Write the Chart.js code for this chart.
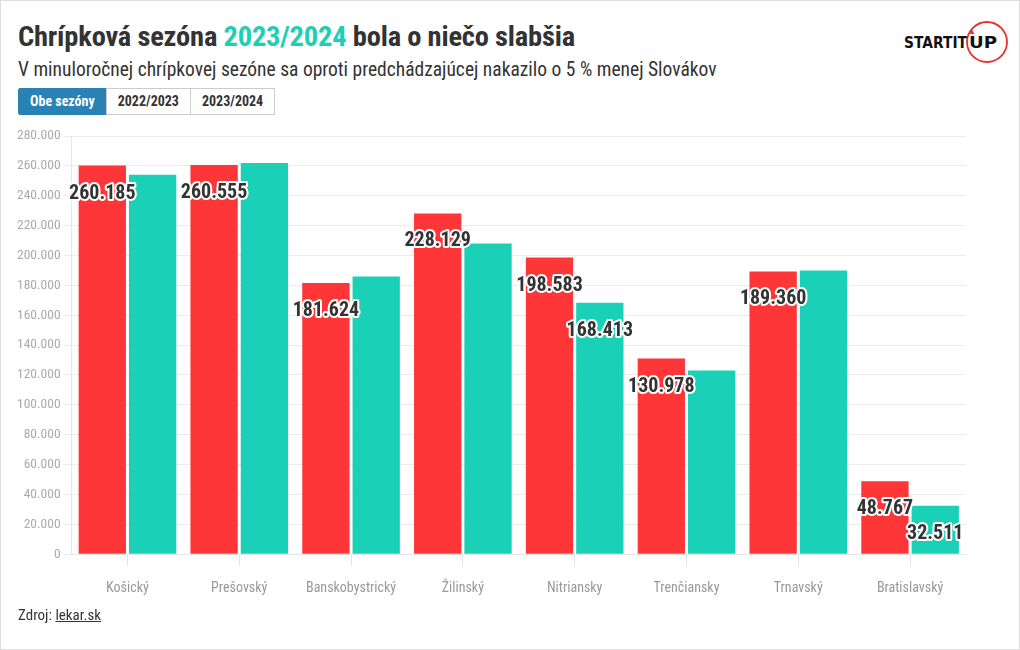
<!DOCTYPE html>
<html><head><meta charset="utf-8">
<script src="https://cdn.jsdelivr.net/npm/chart.js@4/dist/chart.umd.min.js"></script>
<style>
html,body{margin:0;padding:0;background:#fff;}
body{width:1020px;height:650px;position:relative;overflow:hidden;font-family:"Roboto Condensed","Liberation Sans Narrow","DejaVu Sans Condensed",Roboto,sans-serif;color:#333;}
#frame{position:absolute;left:0;top:0;width:1018px;height:648px;border:1px solid #ddd;}
#title{position:absolute;left:18px;top:20px;font-size:28.5px;font-weight:bold;letter-spacing:-0.2px;white-space:nowrap;}
#title .hl{color:#1ccfb5;}
#sub{position:absolute;left:18px;top:58px;font-size:19.5px;white-space:nowrap;}
#btns{position:absolute;left:18px;top:88px;display:flex;}
#btns div{height:25px;line-height:25px;font-size:14px;font-weight:bold;border:1px solid #ccc;padding:0 11px;margin-left:-1px;background:#fff;color:#333;}
#btns div.act{background:#2a82b4;color:#fff;border-color:#2a82b4;margin-left:0;border-radius:2px 0 0 2px;}
#src{position:absolute;left:18px;top:606px;font-size:15px;}
#src span{text-decoration:underline;}
#logo{position:absolute;left:900px;top:18px;}
#wrap{position:absolute;left:0;top:120px;width:1000px;height:491px;}
</style></head>
<body>
<div id="frame"></div>
<div id="title">Chrípková sezóna <span class="hl">2023/2024</span> bola o niečo slabšia</div>
<div id="sub">V minuloročnej chrípkovej sezóne sa oproti predchádzajúcej nakazilo o 5 % menej Slovákov</div>
<div id="btns"><div class="act">Obe sezóny</div><div>2022/2023</div><div>2023/2024</div></div>
<div id="logo"><svg width="115" height="50" viewBox="0 0 115 50">
<circle cx="87" cy="24" r="20" fill="none" stroke="#e8312f" stroke-width="1.8"/>
<text x="4" y="30" font-family="'DejaVu Sans', sans-serif" font-weight="bold" font-size="16.5" fill="#111" textLength="63" lengthAdjust="spacingAndGlyphs">STARTIT</text>
<text x="69" y="30" font-family="'DejaVu Sans', sans-serif" font-weight="bold" font-size="16.5" fill="#111" textLength="28" lengthAdjust="spacingAndGlyphs">UP</text>
<polygon points="69.5,16 72,11.5 74.5,16" fill="#e8312f"/>
</svg></div>
<div id="wrap"><canvas id="c"></canvas></div>
<div id="src">Zdroj: <span>lekar.sk</span></div>
<script>
const categories = ["Košický","Prešovský","Banskobystrický","Žilinský","Nitriansky","Trenčiansky","Trnavský","Bratislavský"];
const season2223 = [260185,260555,181624,228129,198583,130978,189360,48767];
const season2324 = [254000,262000,186000,208000,168413,123000,190000,32511];
const label2223 = [true,true,true,true,true,true,true,true];
const label2324 = [false,false,false,false,true,false,false,true];
const seriesNames = ["2022/2023","2023/2024"];
const yTicks = [0,20000,40000,60000,80000,100000,120000,140000,160000,180000,200000,220000,240000,260000,280000];

const FONT = '"Roboto Condensed","Liberation Sans Narrow","DejaVu Sans Condensed",Roboto,sans-serif';
function fmt(v){return String(Math.round(v)).replace(/\B(?=(\d{3})+(?!\d))/g,'.');}

const labelPlugin = {
  id:'lbl',
  afterDatasetsDraw(chart){
    const ctx = chart.ctx;
    const shows = [label2223,label2324];
    ctx.save();
    ctx.font = 'bold 20px ' + FONT;
    ctx.textAlign='center';ctx.textBaseline='middle';
    ctx.lineJoin='round';
    chart.data.datasets.forEach((ds,di)=>{
      const meta = chart.getDatasetMeta(di);
      meta.data.forEach((bar,i)=>{
        if(!shows[di][i]) return;
        const t = fmt(ds.data[i]);
        const y = bar.y + 28;
        ctx.strokeStyle='#fff';ctx.lineWidth=4;
        ctx.strokeText(t,bar.x,y);
        ctx.fillStyle='#333';
        ctx.fillText(t,bar.x,y);
      });
    });
    ctx.restore();
  }
};

new Chart(document.getElementById('c'),{
  type:'bar',
  data:{labels:categories,datasets:[
    {label:seriesNames[0],data:season2223,backgroundColor:'#fe3638',categoryPercentage:0.9,barPercentage:0.94},
    {label:seriesNames[1],data:season2324,backgroundColor:'#1ad1b8',categoryPercentage:0.9,barPercentage:0.94}
  ]},
  options:{
    responsive:true,maintainAspectRatio:false,animation:false,
    layout:{padding:{left:14,right:34,top:16,bottom:0}},
    plugins:{legend:{display:false},tooltip:{enabled:false}},
    scales:{
      x:{grid:{offset:false,drawOnChartArea:false,color:'#e6e6e6',tickLength:12},border:{color:'#e6e6e6'},
         ticks:{color:'#999',font:{family:FONT,size:14},padding:14}},
      y:{min:0,max:280000,afterBuildTicks(s){s.ticks=yTicks.map(v=>({value:v}));},
         grid:{color:'#ececec',tickLength:8},border:{color:'#e6e6e6'},
         ticks:{color:'#aaa',font:{family:FONT,size:13.5},padding:3,callback:v=>fmt(v)}}
    }
  },
  plugins:[labelPlugin]
});
</script>
</body></html>
